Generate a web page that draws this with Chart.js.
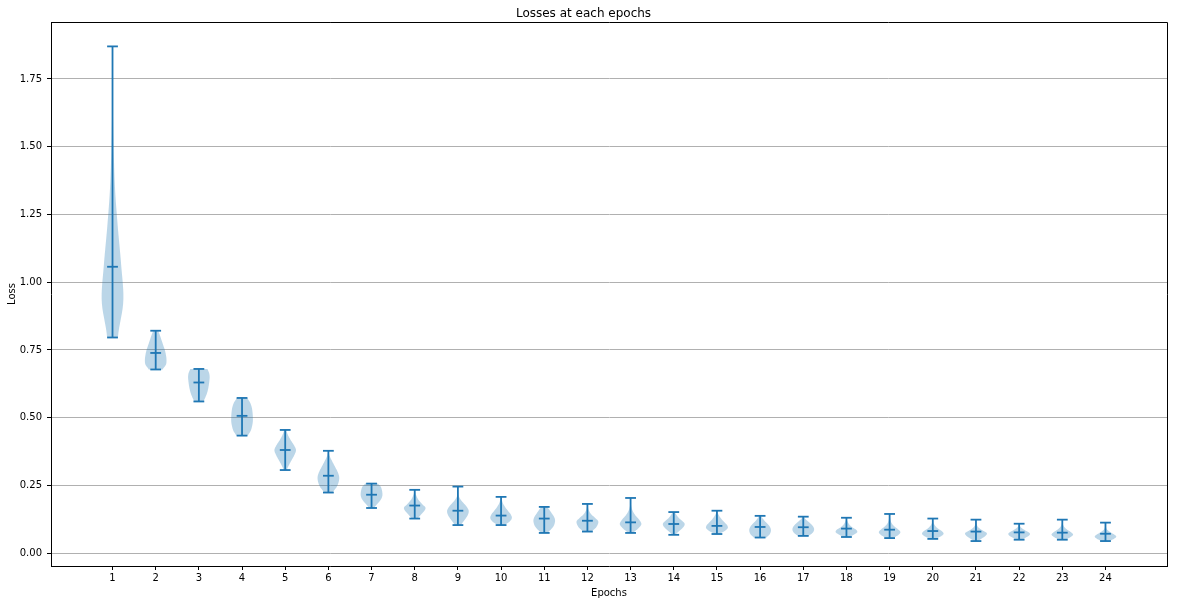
<!DOCTYPE html>
<html>
<head>
<meta charset="utf-8">
<script src="https://cdn.jsdelivr.net/npm/chart.js@4.4.1/dist/chart.umd.min.js"></script>
<style>
  body { margin: 0; background: #fff; }
  #wrap { width: 1177px; height: 604px; }
</style>
</head>
<body>
<div id="wrap"><canvas id="graph" width="1177" height="604"></canvas></div>
<script>
// epochs and loss stats
const EPOCHS = [1, 2, 3, 4, 5, 6, 7, 8, 9, 10, 11, 12, 13, 14, 15, 16, 17, 18, 19, 20, 21, 22, 23, 24];
const LOSS_MIN  = [0.796, 0.678, 0.560, 0.434, 0.307, 0.224, 0.167, 0.128, 0.104, 0.104, 0.075, 0.080, 0.075, 0.068, 0.071, 0.058, 0.064, 0.060, 0.056, 0.053, 0.045, 0.050, 0.050, 0.045];
const LOSS_MEAN = [1.057, 0.739, 0.630, 0.507, 0.381, 0.286, 0.216, 0.176, 0.157, 0.139, 0.128, 0.120, 0.114, 0.108, 0.101, 0.097, 0.096, 0.091, 0.087, 0.082, 0.080, 0.077, 0.076, 0.072];
const LOSS_MAX  = [1.870, 0.821, 0.680, 0.573, 0.455, 0.378, 0.257, 0.234, 0.246, 0.208, 0.171, 0.182, 0.204, 0.152, 0.157, 0.138, 0.135, 0.131, 0.145, 0.128, 0.124, 0.109, 0.124, 0.113];
// violin width (0..1 of full) at 9 even steps from min to max
const SHAPE = [
  [0.5, 1.0, 0.8, 0.5, 0.25, 0.12, 0.05, 0.02, 0.0],
  [0.65, 0.95, 1.0, 0.95, 0.85, 0.7, 0.55, 0.4, 0.25],
  [0.45, 0.6, 0.75, 0.85, 0.92, 0.97, 1.0, 0.95, 0.8],
  [0.55, 0.8, 0.93, 1.0, 1.0, 0.97, 0.9, 0.75, 0.5],
  [0.15, 0.35, 0.6, 0.85, 1.0, 0.8, 0.5, 0.25, 0.1],
  [0.4, 0.75, 0.95, 1.0, 0.85, 0.6, 0.35, 0.12, 0.02],
  [0.25, 0.45, 0.7, 0.9, 1.0, 1.0, 0.95, 0.85, 0.6],
  [0.3, 0.55, 0.85, 1.0, 0.7, 0.4, 0.2, 0.08, 0.03],
  [0.3, 0.6, 0.9, 1.0, 0.75, 0.35, 0.08, 0.01, 0.0],
  [0.35, 0.8, 1.0, 0.9, 0.65, 0.4, 0.2, 0.08, 0.02],
  [0.3, 0.6, 0.85, 0.97, 1.0, 0.9, 0.7, 0.5, 0.3],
  [0.4, 0.75, 0.95, 1.0, 0.7, 0.35, 0.15, 0.05, 0.02],
  [0.25, 0.7, 1.0, 0.8, 0.45, 0.2, 0.07, 0.02, 0.0],
  [0.15, 0.4, 0.7, 0.95, 1.0, 0.75, 0.45, 0.25, 0.1],
  [0.25, 0.7, 1.0, 0.95, 0.7, 0.45, 0.25, 0.1, 0.03],
  [0.6, 0.85, 0.98, 1.0, 0.9, 0.7, 0.45, 0.25, 0.1],
  [0.5, 0.8, 0.97, 1.0, 0.9, 0.7, 0.45, 0.2, 0.05],
  [0.3, 0.7, 1.0, 0.9, 0.55, 0.3, 0.15, 0.05, 0.02],
  [0.35, 0.8, 1.0, 0.75, 0.4, 0.18, 0.08, 0.03, 0.0],
  [0.3, 0.75, 1.0, 0.85, 0.5, 0.25, 0.1, 0.04, 0.01],
  [0.2, 0.55, 0.9, 1.0, 0.6, 0.25, 0.08, 0.02, 0.0],
  [0.3, 0.6, 0.9, 1.0, 0.8, 0.45, 0.2, 0.07, 0.02],
  [0.35, 0.75, 1.0, 0.8, 0.45, 0.2, 0.07, 0.02, 0.0],
  [0.4, 0.8, 1.0, 0.75, 0.4, 0.15, 0.05, 0.01, 0.0]
];
const Y_TICKS = [0, 0.25, 0.5, 0.75, 1.0, 1.25, 1.5, 1.75];

const BLUE = '#1f77b4';
const BODY = 'rgba(31,119,180,0.3)';
const HALF = 0.25;   // max half width of a violin, x units
const CAP = 0.125;   // half length of the cap / mean lines

// smooth width between the samples
function widthAt(p, t) {
  const n = p.length - 1;
  const f = t * n;
  const i = Math.min(Math.floor(f), n - 1);
  const u = f - i;
  const p0 = p[Math.max(i - 1, 0)], p1 = p[i], p2 = p[i + 1], p3 = p[Math.min(i + 2, n)];
  const v = 0.5 * (2 * p1 + (-p0 + p2) * u + (2 * p0 - 5 * p1 + 4 * p2 - p3) * u * u + (-p0 + 3 * p1 - 3 * p2 + p3) * u * u * u);
  return Math.max(0, v);
}

const violins = {
  id: 'violins',
  beforeDatasetsDraw(chart) {
    const { ctx, chartArea, scales: { x, y } } = chart;
    ctx.save();
    ctx.beginPath();
    ctx.rect(chartArea.left, chartArea.top, chartArea.right - chartArea.left, chartArea.bottom - chartArea.top);
    ctx.clip();
    const steps = 60;
    for (let i = 0; i < EPOCHS.length; i++) {
      const e = EPOCHS[i], lo = LOSS_MIN[i], hi = LOSS_MAX[i], p = SHAPE[i];
      ctx.beginPath();
      for (let k = 0; k <= steps; k++) {
        const t = k / steps;
        const v = lo + (hi - lo) * t;
        const px = x.getPixelForValue(e + HALF * widthAt(p, t));
        const py = y.getPixelForValue(v);
        if (k === 0) ctx.moveTo(px, py); else ctx.lineTo(px, py);
      }
      for (let k = steps; k >= 0; k--) {
        const t = k / steps;
        const v = lo + (hi - lo) * t;
        ctx.lineTo(x.getPixelForValue(e - HALF * widthAt(p, t)), y.getPixelForValue(v));
      }
      ctx.closePath();
      ctx.fillStyle = BODY;
      ctx.fill();
    }
    // extrema lines
    ctx.strokeStyle = BLUE;
    ctx.lineWidth = 1.8;
    for (let i = 0; i < EPOCHS.length; i++) {
      const px = x.getPixelForValue(EPOCHS[i]);
      ctx.beginPath();
      ctx.moveTo(px, y.getPixelForValue(LOSS_MIN[i]));
      ctx.lineTo(px, y.getPixelForValue(LOSS_MAX[i]));
      ctx.stroke();
    }
    ctx.restore();
  },
  afterDraw(chart) {
    // frame top and right
    const { ctx, chartArea } = chart;
    ctx.save();
    ctx.strokeStyle = '#000';
    ctx.lineWidth = 1;
    ctx.beginPath();
    ctx.moveTo(chartArea.left, chartArea.top + 0.5);
    ctx.lineTo(chartArea.right + 0.5, chartArea.top + 0.5);
    ctx.lineTo(chartArea.right + 0.5, chartArea.bottom);
    ctx.stroke();
    ctx.restore();
  }
};

const capPx = (ctx) => Math.abs(ctx.chart.scales.x.getPixelForValue(CAP) - ctx.chart.scales.x.getPixelForValue(0));

function capSet(values) {
  return {
    data: EPOCHS.map((e, i) => ({ x: e, y: values[i] })),
    pointStyle: 'line',
    pointRadius: capPx,
    pointHoverRadius: capPx,
    borderColor: BLUE,
    pointBorderColor: BLUE,
    pointBorderWidth: 1.8,
    showLine: false
  };
}

Chart.defaults.font.family = '"DejaVu Sans", sans-serif';
Chart.defaults.color = '#000';

const chart = new Chart(document.getElementById('graph'), {
  type: 'scatter',
  data: {
    datasets: [capSet(LOSS_MIN), capSet(LOSS_MEAN), capSet(LOSS_MAX)]
  },
  options: {
    responsive: false,
    animation: false,
    devicePixelRatio: 1,
    layout: { padding: { left: 0, right: 10, top: 0, bottom: 0 } },
    plugins: {
      legend: { display: false },
      tooltip: { enabled: false },
      title: {
        display: true,
        text: 'Losses at each epochs',
        font: { size: 12, weight: 'normal' },
        color: '#000',
        padding: { top: 7, bottom: 0.6 }
      }
    },
    scales: {
      x: {
        type: 'linear',
        min: -0.425,
        max: 25.425,
        afterBuildTicks: (scale) => { scale.ticks = EPOCHS.map(v => ({ value: v })); },
        afterFit: (scale) => { scale.height = 38; },
        ticks: { font: { size: 10 }, color: '#000', padding: 2, maxRotation: 0, autoSkip: false },
        grid: { display: true, drawOnChartArea: false, drawTicks: true, tickLength: 4, tickColor: '#000' },
        border: { color: '#000', width: 1 },
        title: { display: true, text: 'Epochs', font: { size: 10 }, color: '#000', padding: { top: 2, bottom: 5 } }
      },
      y: {
        type: 'linear',
        min: -0.047,
        max: 1.96,
        afterBuildTicks: (scale) => { scale.ticks = Y_TICKS.map(v => ({ value: v })); },
        afterFit: (scale) => { scale.width = 51; },
        ticks: { font: { size: 10 }, color: '#000', padding: 5, callback: (v) => v.toFixed(2) },
        grid: { color: '#b0b0b0', lineWidth: 1, drawTicks: true, tickLength: 4, tickColor: '#000' },
        border: { color: '#000', width: 1 },
        title: { display: true, text: 'Loss', font: { size: 10 }, color: '#000', padding: { top: 6, bottom: 0 } }
      }
    }
  },
  plugins: [violins]
});
</script>
</body>
</html>
